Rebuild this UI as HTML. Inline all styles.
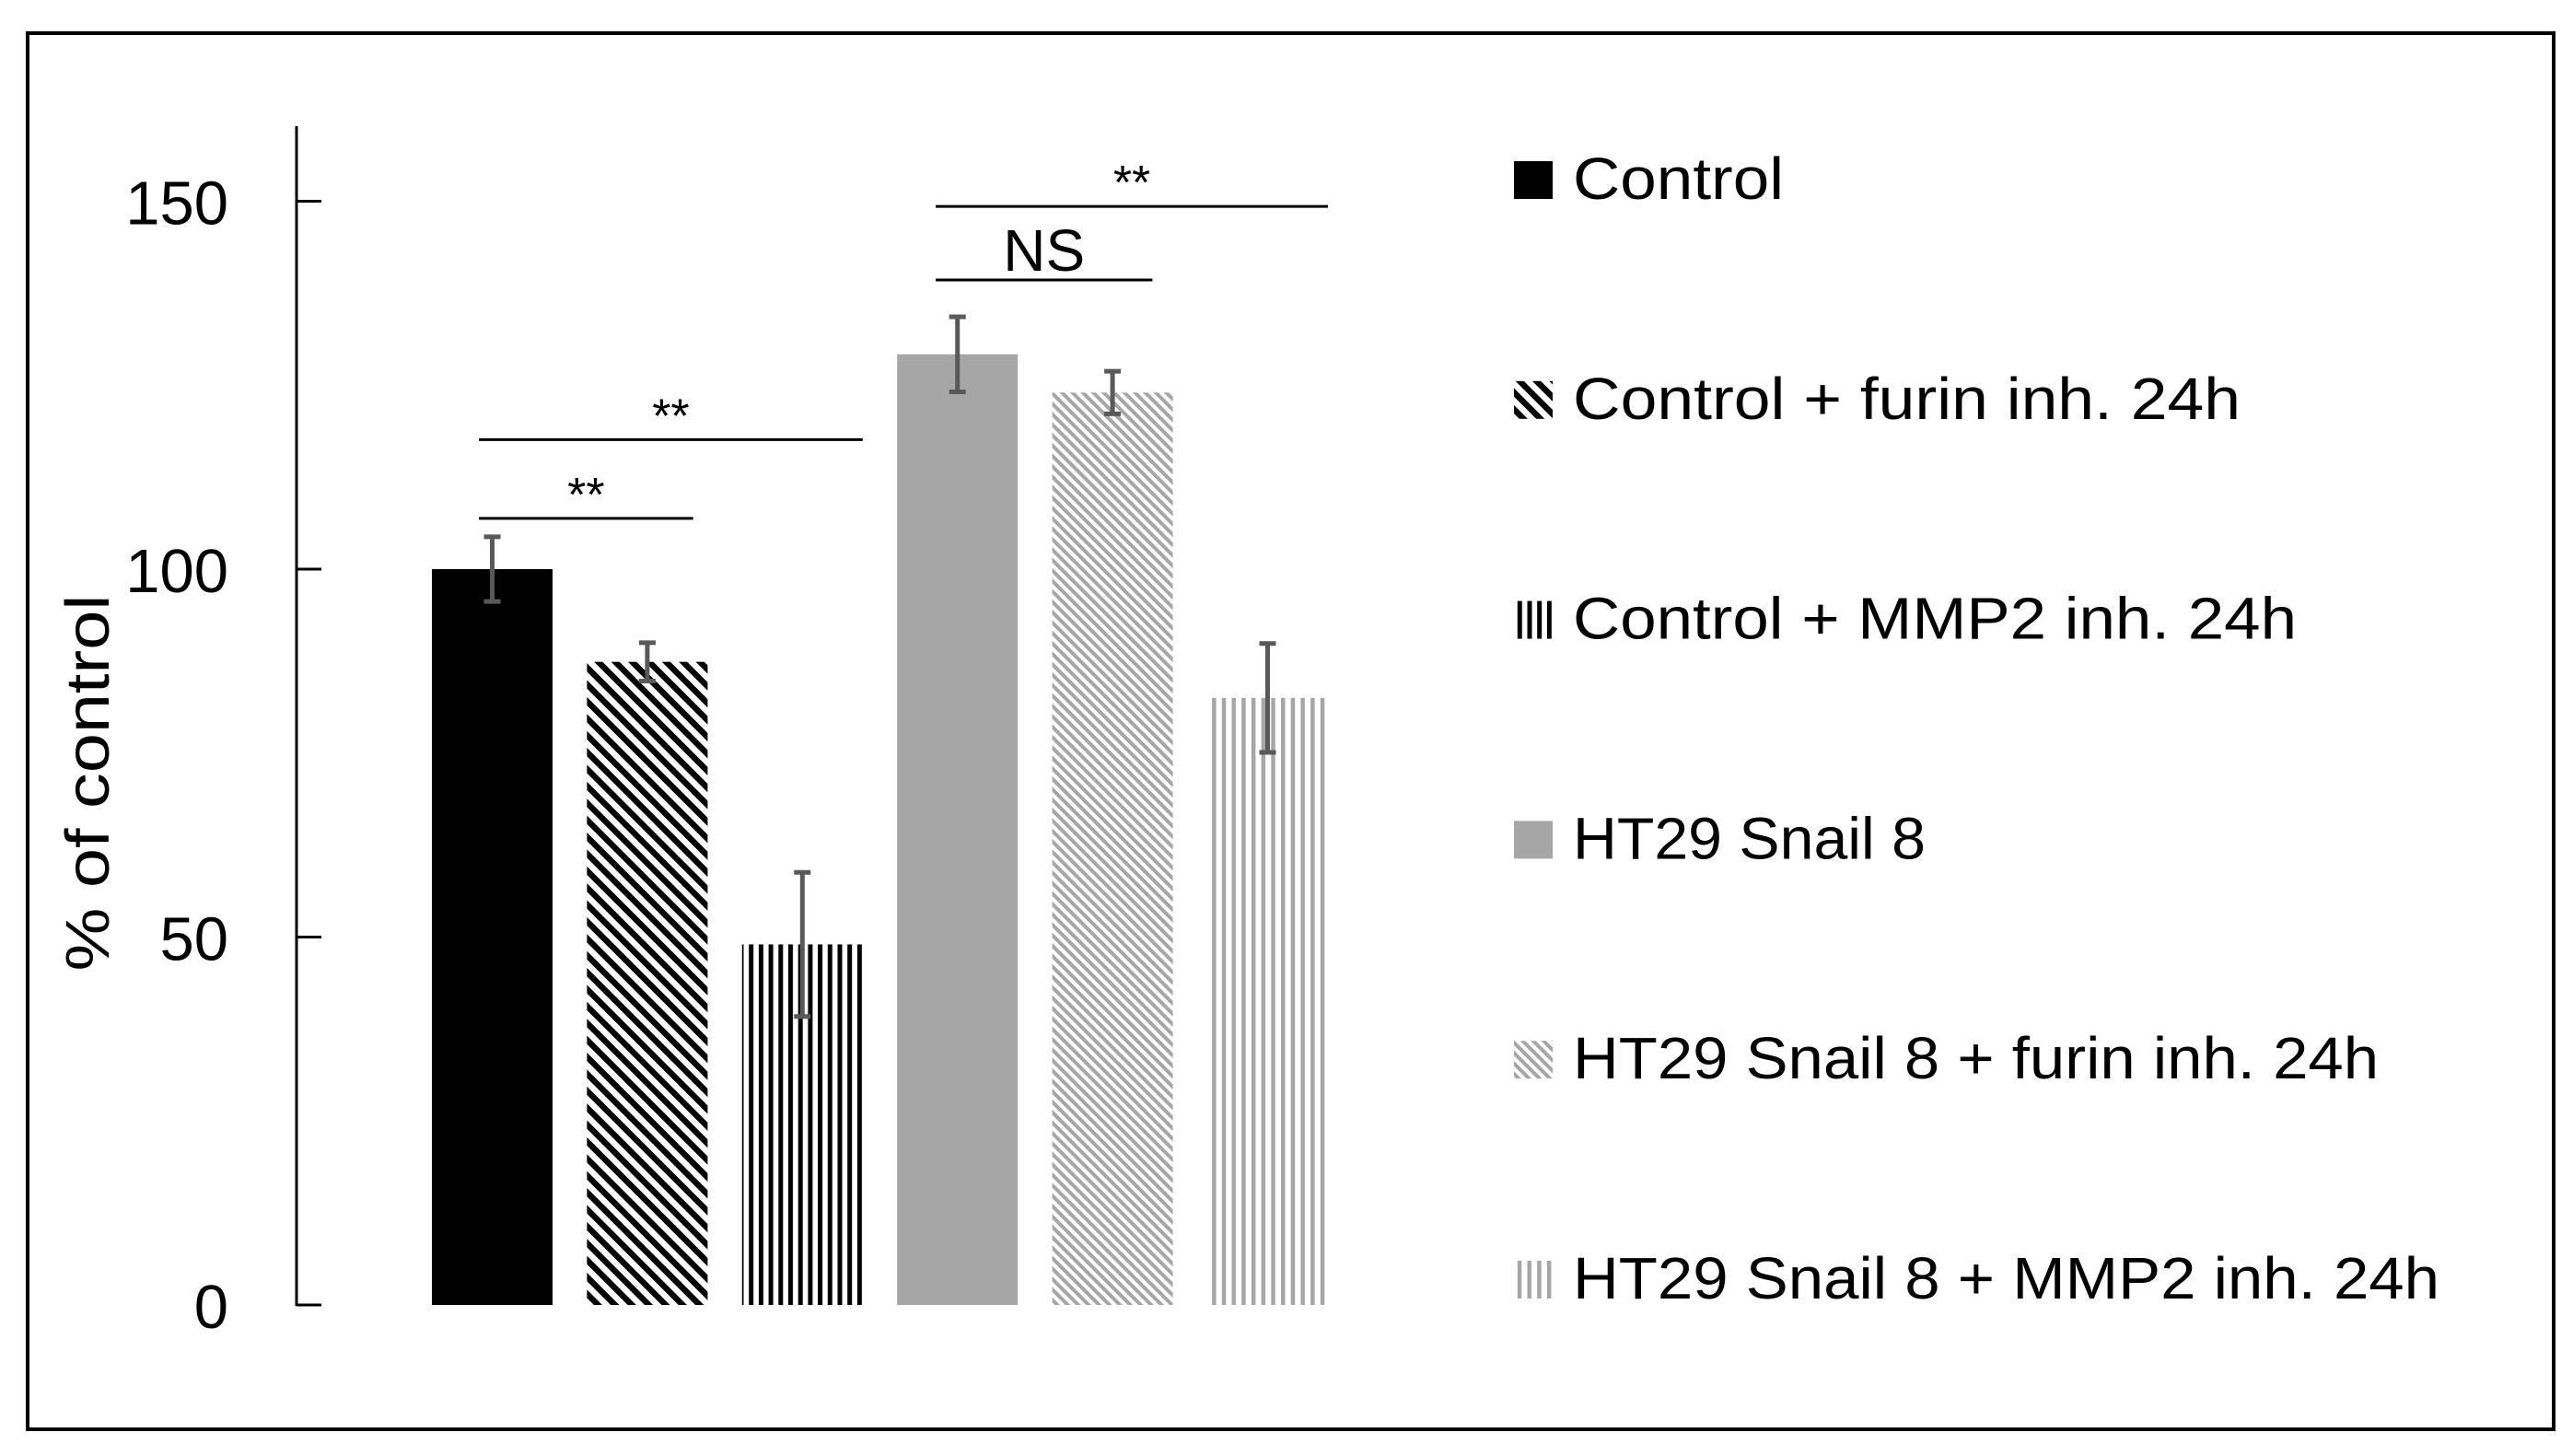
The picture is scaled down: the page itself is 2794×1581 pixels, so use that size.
<!DOCTYPE html>
<html><head><meta charset="utf-8"><style>
html,body{margin:0;padding:0;background:#fff;}
svg{display:block;font-family:"Liberation Sans",sans-serif;}
</style></head><body>
<svg id="chart" width="2794" height="1581" viewBox="0 0 2794 1581" xmlns="http://www.w3.org/2000/svg">
<defs>
<pattern id="p-black-diag" patternUnits="userSpaceOnUse" width="13" height="13" patternTransform="rotate(-45)">
<rect width="13" height="13" fill="#fff"/><rect width="6.5" height="13" fill="#000"/></pattern>
<pattern id="p-black-vert" patternUnits="userSpaceOnUse" width="10.7" height="10">
<rect width="10.7" height="10" fill="#fff"/><rect width="5" height="10" fill="#000"/></pattern>
<pattern id="p-gray-diag" patternUnits="userSpaceOnUse" width="8" height="8" patternTransform="rotate(-45)">
<rect width="8" height="8" fill="#fff"/><rect width="4" height="8" fill="#a6a6a6"/></pattern>
<pattern id="p-gray-vert" patternUnits="userSpaceOnUse" width="10.7" height="10">
<rect width="10.7" height="10" fill="#fff"/><rect width="4.5" height="10" fill="#a6a6a6"/></pattern>
</defs>
<rect x="30" y="36" width="2743" height="1516" fill="none" stroke="#000" stroke-width="4"/>
<g id="axis"></g>
<g id="bars"></g>
<g id="sig"></g>
<g id="legend"></g>
<text x="118" y="850" transform="rotate(-90 118 850)" text-anchor="middle" font-size="67" textLength="409" lengthAdjust="spacingAndGlyphs" fill="#000">% of control</text>
</svg>
<script>
const categories = ["Control","Control + furin inh. 24h","Control + MMP2 inh. 24h","HT29 Snail 8","HT29 Snail 8 + furin inh. 24h","HT29 Snail 8 + MMP2 inh. 24h"];
const values = [100, 87.4, 49, 129.2, 124, 82.5];
const errors = [4.4, 2.6, 9.8, 5.1, 2.9, 7.4];
const fills = ["#000","url(#p-black-diag)","url(#p-black-vert)","#a6a6a6","url(#p-gray-diag)","url(#p-gray-vert)"];
const tickValues = [0, 50, 100, 150];
const tickLabels = ["0", "50", "100", "150"];
const legendWidths = [229, 725, 786, 383, 875, 941];
const sigFrom = [0, 0, 3, 3];
const sigTo = [1, 2, 4, 5];
const sigStartFrac = [0.39, 0.39, 0.32, 0.32];
const sigEndFrac = [0.88, 1, 0.83, 1];
const sigLevel = [106.9, 117.6, 139.3, 149.3];
const sigText = ["**", "**", "NS", "**"];

const NS = "http://www.w3.org/2000/svg";
const y0 = 1417, pxPerUnit = 7.99;
const y = v => y0 - v * pxPerUnit;
const barX0 = 469, pitch = 168.4, barW = 131;
const xL = i => barX0 + i * pitch;
const xC = i => xL(i) + barW / 2;
function mk(tag, attrs, parent) {
  const e = document.createElementNS(NS, tag);
  for (const k in attrs) e.setAttribute(k, attrs[k]);
  parent.appendChild(e);
  return e;
}
const axis = document.getElementById('axis');
let ln = mk('line', {x1: 322, y1: 137, x2: 322, y2: y0 + 1, stroke: '#000', 'stroke-width': 3}, axis);


tickValues.forEach((t, i) => {
  const tk = mk('line', {x1: 322, y1: y(t), x2: 349, y2: y(t), stroke: '#000', 'stroke-width': 3}, axis);
  
  
  const lb = mk('text', {x: 248, y: y(t) + 25, 'text-anchor': 'end', 'font-size': 67, fill: '#000'}, axis);
  lb.textContent = tickLabels[i];
  
  
});
const bars = document.getElementById('bars');
values.forEach((v, i) => {
  const r = mk('rect', {x: xL(i), y: y(v), width: barW, height: y0 - y(v), fill: fills[i]}, bars);
  
  
  const g = mk('g', {stroke: '#595959', 'stroke-width': 5}, bars);
  
  
  const c = xC(i), hi = y(v + errors[i]), lo = y(v - errors[i]);
  mk('line', {x1: c, y1: hi, x2: c, y2: lo}, g);
  mk('line', {x1: c - 9, y1: hi, x2: c + 9, y2: hi}, g);
  mk('line', {x1: c - 9, y1: lo, x2: c + 9, y2: lo}, g);
});
const sig = document.getElementById('sig');
sigFrom.forEach((a, k) => {
  const b = sigTo[k];
  const x1 = xL(a) + barW * sigStartFrac[k], x2 = xL(b) + barW * sigEndFrac[k];
  const yy = y(sigLevel[k]);
  const l = mk('line', {x1: x1, y1: yy, x2: x2, y2: yy, stroke: '#000', 'stroke-width': 3}, sig);
  
  
  const isNS = sigText[k] === 'NS';
  const t = mk('text', {x: (x1 + x2) / 2, y: isNS ? yy - 10 : yy - 8, 'text-anchor': 'middle', 'font-size': isNS ? 64 : 52, fill: '#000'}, sig);
  t.textContent = sigText[k];
  
  
});
const legend = document.getElementById('legend');
categories.forEach((c, i) => {
  const base = 216 + i * 238.8;
  const g = mk('g', {}, legend);
  
  
  const sw = mk('rect', {x: 1644, y: base - 41, width: 42, height: 41, fill: fills[i]}, g);
  
  
  const t = mk('text', {x: 1708, y: base, 'font-size': 64, textLength: legendWidths[i], lengthAdjust: 'spacingAndGlyphs', fill: '#000'}, g);
  t.textContent = c;
  
  
});
</script>
</body></html>
